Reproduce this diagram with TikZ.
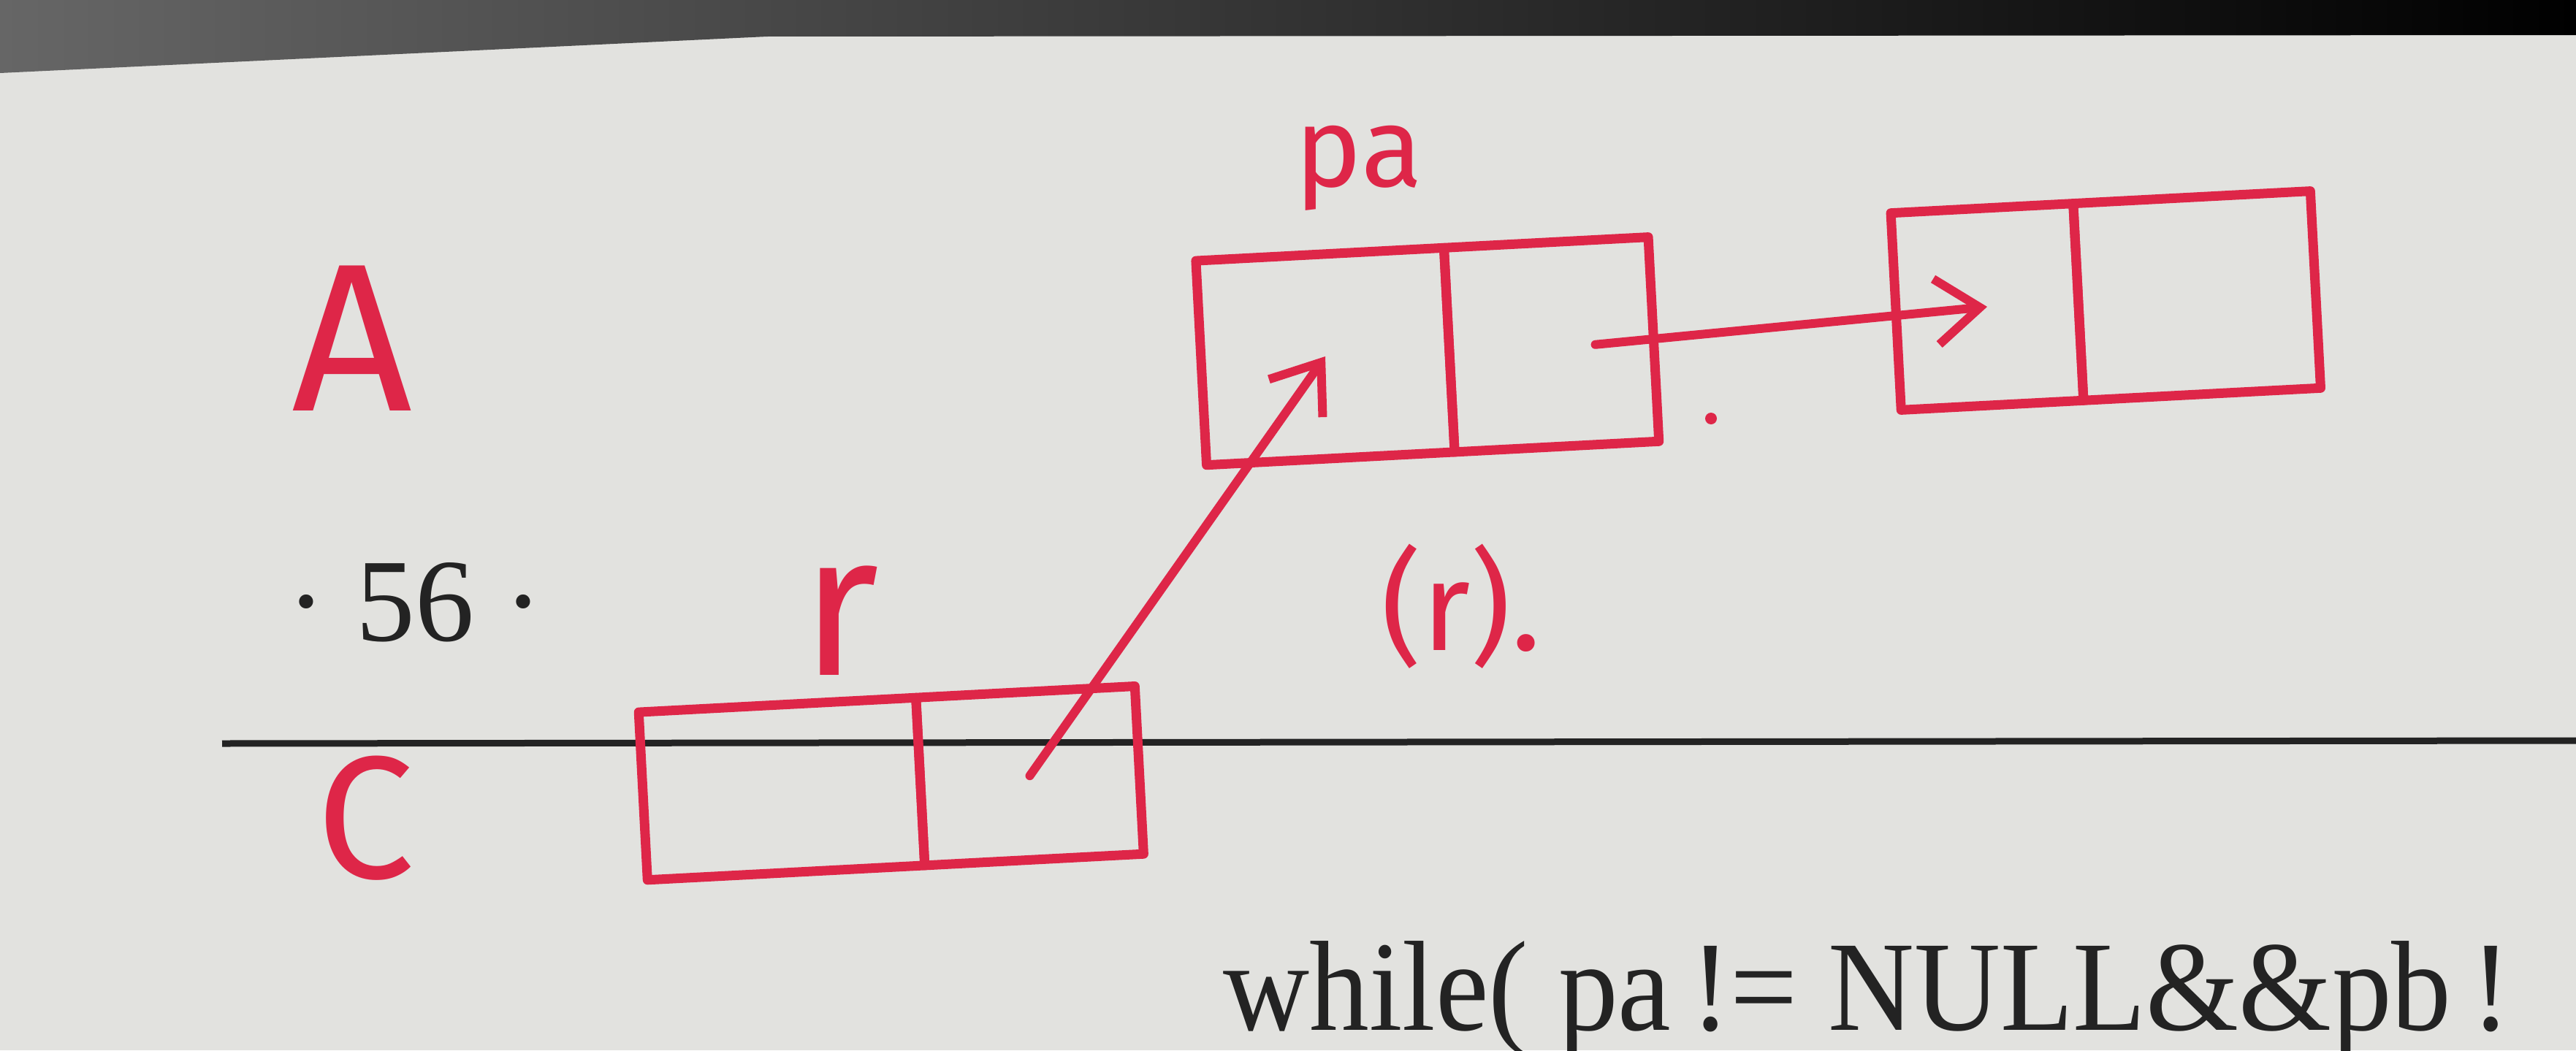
\documentclass[tikz,border=0pt]{standalone}
\usepackage{fontspec}
\setmainfont{Liberation Serif}
\newfontfamily\handfont{Fira Sans}
\usetikzlibrary{positioning, arrows.meta}
\definecolor{pen}{RGB}{222,38,72}
\definecolor{paper}{RGB}{226,226,223}
\definecolor{ink}{RGB}{35,35,35}

\begin{document}
\begin{tikzpicture}[x=1mm, y=-1mm,
    cell/.style={rectangle, draw=pen, line width=1.3mm, line join=round, outer sep=0pt, inner sep=0pt, rotate=3},
    hand/.style={text=pen, inner sep=0pt, font=\handfont\fontsize{#1}{#1}\selectfont},
    print/.style={text=ink, inner sep=0pt, font=\fontsize{#1}{#1}\selectfont},
    ptr/.style={draw=pen, line width=1.2mm, line cap=round, -{Straight Barb[length=6mm, width=9mm]}}
]

% ========== HOJA ==========
\useasboundingbox (0,0) rectangle (352.6,143.8);
\fill[paper] (0,0) rectangle (352.6,143.8);
\shade[left color=black!60, right color=black] (0,0) -- (0,10) -- (105,5) -- (352.6,4.8) -- (352.6,0) -- cycle;
\draw[ink, line width=0.9mm] (30.4,101.8) -- (352.6,101.4);

% ========== TEXTO IMPRESO ==========
\node[print=46pt] (pagenum) at (56.8,82.5) {· 56 ·};
\node[print=50pt, anchor=base west] (code) at (167.4,141) {\scalebox{0.93}[1]{while( pa\,!= NULL\&\&pb\,!}};

% ========== NODO r ==========
\node[cell, minimum width=38mm, minimum height=23mm] (rdata) at (107,108) {};
\node[cell, minimum width=30mm, minimum height=23mm, right=0pt of rdata] (rnext) {};
\node[hand=79pt] (labr) at (115,85) {r};

% ========== NODO pa ==========
\node[cell, minimum width=34mm, minimum height=28mm] (pdata) at (181.4,48.8) {};
\node[cell, minimum width=28mm, minimum height=28mm, right=0pt of pdata] (pnext) {};
\node[hand=44pt] (labpa) at (186,23) {pa};
\fill[pen] (234.2,57.3) circle (0.8);

% ========== NODO SIGUIENTE ==========
\node[cell, minimum width=25mm, minimum height=27mm] (sdata) at (272,42) {};
\node[cell, minimum width=32.5mm, minimum height=27mm, right=0pt of sdata] (snext) {};

% ========== ROTULOS ==========
\node[hand=82pt] (labA) at (48.2,46.3) {A};
\node[hand=68pt] (labC) at (50,112) {C};
\node[hand=49pt] (labcase) at (200,83) {(r).};

% ========== FLECHAS ==========
\draw[ptr] (rnext.center) -- (pdata.center);
\draw[ptr] ([xshift=6mm]pnext.center) -- (sdata.center);

\end{tikzpicture}
\end{document}
